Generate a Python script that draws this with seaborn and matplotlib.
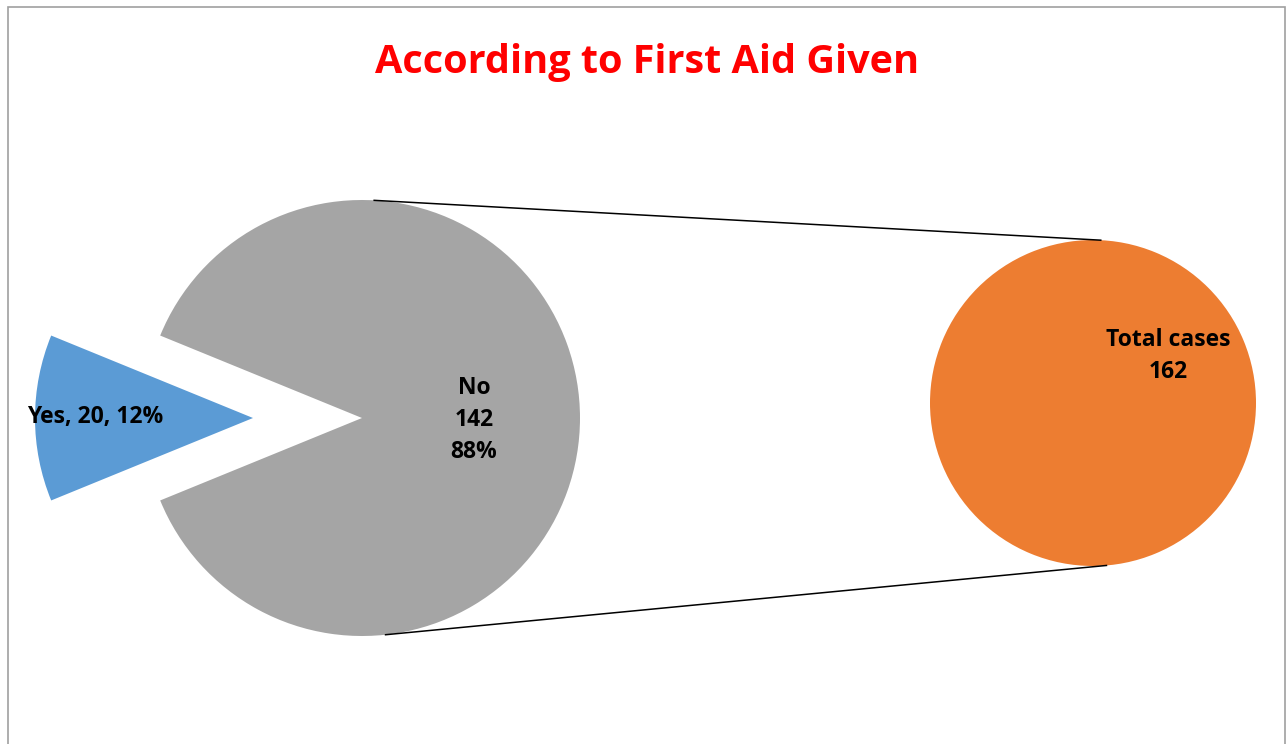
import matplotlib
matplotlib.use("Agg")
import matplotlib.pyplot as plt
from matplotlib.patches import Rectangle
import numpy as np
import seaborn as sns

# ---- data ----
categories = ["Yes", "No"]
counts = [20, 142]
total_label = "Total cases"
total_value = [sum(counts)]
title = "According to First Aid Given"

colors = ["#5B9BD5", "#A5A5A5"]
total_color = "#ED7D31"

sns.set_theme(style="white")
FONT = ["Open Sans", "DejaVu Sans"]
plt.rcParams["font.family"] = FONT

W, H = 1288, 744
fig = plt.figure(figsize=(W / 100, H / 100), dpi=100)
fig.patch.set_facecolor("white")
ax = fig.add_axes([0, 0, 1, 1])

# geometry (pixel space, y measured from bottom)
main_c = (362, H - 418)
main_r = 218
sec_c = (1093, H - 403)
sec_r = 163

pct = [c / sum(counts) * 100 for c in counts]
yes_span = 360 * counts[0] / sum(counts)
ax.pie(counts, colors=colors, startangle=180 - yes_span / 2,
       explode=[0.5 * main_r, 0], center=main_c, radius=main_r,
       wedgeprops=dict(linewidth=0))
ax.pie(total_value, colors=[total_color], startangle=90,
       center=sec_c, radius=sec_r, wedgeprops=dict(linewidth=0))

# connector lines
def pt(c, r, ang):
    a = np.deg2rad(ang)
    return c[0] + r * np.cos(a), c[1] + r * np.sin(a)

for a1, a2 in [(87, 87), (-84, -85)]:
    p1 = pt(main_c, main_r, a1)
    p2 = pt(sec_c, sec_r, a2)
    ax.plot([p1[0], p2[0]], [p1[1], p2[1]], color="black", lw=1.1,
            solid_capstyle="butt")

ax.set_xlim(0, W)
ax.set_ylim(0, H)
ax.set_aspect("equal")
ax.axis("off")

lab_kw = dict(fontsize=16.5, fontweight="bold", color="black",
              ha="center", va="center", linespacing=1.45)
ax.text(474, H - 420, f"{categories[1]}\n{counts[1]}\n{pct[1]:.0f}%", **lab_kw)
ax.text(95, H - 417, f"{categories[0]}, {counts[0]}, {pct[0]:.0f}%", **lab_kw)
ax.text(1168, H - 356, f"{total_label}\n{total_value[0]}", **lab_kw)

ax.text(647, H - 62, title, fontsize=28.5, fontweight="bold", color="#FF0000",
        ha="center", va="center")

# chart frame
fig.patches.append(Rectangle((8 / W, -0.05), (1285 - 8) / W, (H - 7) / H + 0.05,
                             transform=fig.transFigure, fill=False,
                             edgecolor="#A0A0A0", lw=1.2))

fig.savefig("out.png", dpi=100, facecolor="white")
